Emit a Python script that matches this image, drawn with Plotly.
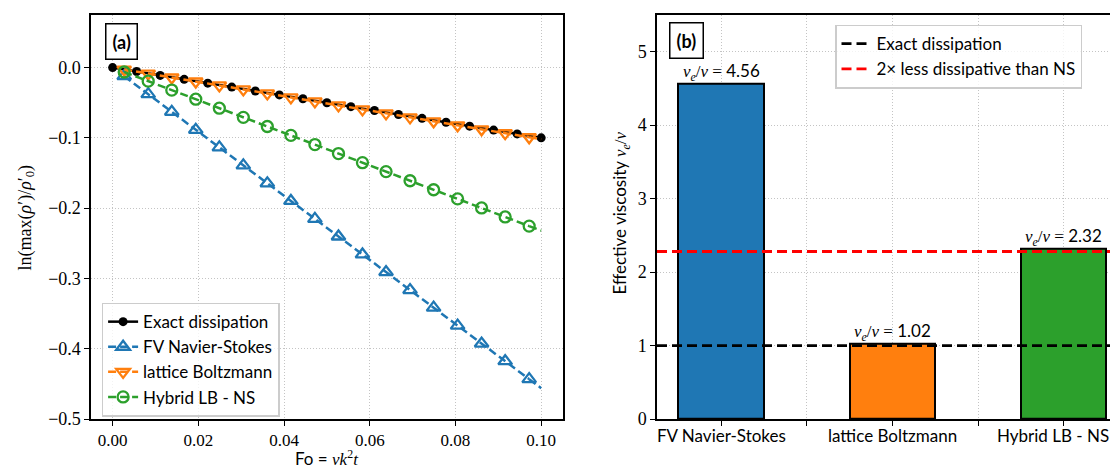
import plotly.graph_objects as go

# ---------------- data ----------------
# Panel (a): exact dissipation
fo_exact = [0.0, 0.0056, 0.0111, 0.0167, 0.0222, 0.0278, 0.0333, 0.0389, 0.0444, 0.05,
            0.0556, 0.0611, 0.0667, 0.0722, 0.0778, 0.0833, 0.0889, 0.0944, 0.1]
ln_exact = [0.0, -0.0056, -0.0111, -0.0167, -0.0222, -0.0278, -0.0333, -0.0389, -0.0444, -0.05,
            -0.0556, -0.0611, -0.0667, -0.0722, -0.0778, -0.0833, -0.0889, -0.0944, -0.1]

# Panel (a): simulations (marker samples)
fo_sim = [0.0027, 0.0083, 0.0138, 0.0194, 0.0249, 0.0305, 0.0361, 0.0416, 0.0472, 0.0527,
          0.0583, 0.0638, 0.0694, 0.0749, 0.0805, 0.0861, 0.0916, 0.0972]
ln_ns = [-0.0123, -0.0378, -0.0629, -0.0885, -0.1135, -0.1391, -0.1646, -0.1897, -0.2152, -0.2403,
         -0.2658, -0.2909, -0.3165, -0.3415, -0.3671, -0.3926, -0.4177, -0.4432]
ln_lb = [-0.0028, -0.0085, -0.0141, -0.0198, -0.0254, -0.0311, -0.0368, -0.0424, -0.0481, -0.0538,
         -0.0595, -0.0651, -0.0708, -0.0764, -0.0821, -0.0878, -0.0934, -0.0991]
ln_hy = [-0.0063, -0.0193, -0.0320, -0.0450, -0.0578, -0.0708, -0.0838, -0.0965, -0.1095, -0.1223,
         -0.1353, -0.1480, -0.1610, -0.1738, -0.1868, -0.1997, -0.2125, -0.2255]
# end of the simulated curves (line continues past last marker)
fo_end = 0.1
ln_ns_end = -0.456
ln_lb_end = -0.102
ln_hy_end = -0.232

series_names = ["Exact dissipation", "FV Navier-Stokes", "lattice Boltzmann", "Hybrid LB - NS"]

# Panel (b)
categories = ["FV Navier-Stokes", "lattice Boltzmann", "Hybrid LB - NS"]
viscosity_ratio = [4.56, 1.02, 2.32]
exact_ratio = 1.0
half_ns_ratio = 2.28
ref_names = ["Exact dissipation", "2× less dissipative than NS"]

x_ticks_a = [0.0, 0.02, 0.04, 0.06, 0.08, 0.10]
y_ticks_a = [0.0, -0.1, -0.2, -0.3, -0.4, -0.5]
y_ticks_b = [0, 1, 2, 3, 4, 5]

# ---------------- style ----------------
W, H = 1118, 470
SERIF = "Liberation Serif"
SANS = "Lato"
BLUE, ORANGE, GREEN = "#1f77b4", "#ff7f0e", "#2ca02c"
GRID = "#c4c4c4"
XR_A = [-0.005, 0.105]
YR_A = [-0.5, 0.075]
XR_B = [-0.375, 2.364]
YR_B = [0, 5.5]
YDOM = [1 - 420 / H, 1 - 7 / H]

fig = go.Figure()

# ---- panel (a) ----
fig.add_trace(go.Scatter(
    x=fo_exact, y=ln_exact, mode="lines+markers", name=series_names[0],
    line=dict(color="black", width=2.5),
    marker=dict(symbol="circle", size=9, color="black"),
    xaxis="x", yaxis="y", legend="legend"))

for ys, yend, col, sym, nm, sz in [
        (ln_ns, ln_ns_end, BLUE, "triangle-up-open", series_names[1], 12),
        (ln_lb, ln_lb_end, ORANGE, "triangle-down-open", series_names[2], 12),
        (ln_hy, ln_hy_end, GREEN, "circle-open", series_names[3], 11)]:
    fig.add_trace(go.Scatter(
        x=[fo_sim[-1], fo_end], y=[ys[-1], yend], mode="lines", showlegend=False,
        line=dict(color=col, width=2.5, dash="8px,4px"),
        xaxis="x", yaxis="y", hoverinfo="skip"))
    fig.add_trace(go.Scatter(
        x=fo_sim, y=ys, mode="lines+markers", name=nm,
        line=dict(color=col, width=2.5, dash="8px,4px"),
        marker=dict(symbol=sym, size=sz, color=col, line=dict(width=2.3, color=col)),
        xaxis="x", yaxis="y", legend="legend"))

# ---- panel (b) ----
bar_x = list(range(len(categories)))
fig.add_trace(go.Bar(
    x=bar_x, y=viscosity_ratio, width=0.5,
    marker=dict(color=[BLUE, ORANGE, GREEN], line=dict(color="black", width=2)),
    showlegend=False, xaxis="x2", yaxis="y2"))

fig.add_trace(go.Scatter(
    x=XR_B, y=[exact_ratio, exact_ratio], mode="lines", name=ref_names[0],
    line=dict(color="black", width=2.8, dash="10px,5px"),
    xaxis="x2", yaxis="y2", legend="legend2"))
fig.add_trace(go.Scatter(
    x=XR_B, y=[half_ns_ratio, half_ns_ratio], mode="lines", name=ref_names[1],
    line=dict(color="red", width=2.8, dash="10px,5px"),
    xaxis="x2", yaxis="y2", legend="legend2"))

nu = "<span style='font-family:Liberation Serif'><i>ν</i><sub><i>e</i></sub>/<i>ν</i> = </span>"
annotations = []
for xi, v in zip(bar_x, viscosity_ratio):
    annotations.append(dict(
        x=xi, y=v, xref="x2", yref="y2", text=f"{nu}{v:.2f}", showarrow=False,
        yanchor="bottom", yshift=-2, font=dict(family=SANS, size=17, color="black")))

# category labels (as text below the axis so the last one stays inside the page)
for xi, cat in zip(bar_x, categories):
    annotations.append(dict(
        x=xi, y=1 - 437 / H, xref="x2", yref="paper", text=cat, showarrow=False,
        xanchor="center", yanchor="middle", xshift=(-11 if xi == bar_x[-1] else 0),
        font=dict(family=SANS, size=17, color="black")))

# panel labels
for txt, cx, cy in [("(a)", 113.4, 34), ("(b)", 678.8, 33.5)]:
    annotations.append(dict(
        x=cx / W, y=1 - cy / H, xref="paper", yref="paper", text=f"<b>{txt}</b>",
        showarrow=False, xanchor="center", yanchor="middle",
        font=dict(family=SANS, size=18, color="black"),
        bordercolor="black", borderwidth=1.5, borderpad=6, bgcolor="white"))

# axis titles
annotations.append(dict(
    x=319 / W, y=1 - 460 / H, xref="paper", yref="paper", showarrow=False,
    text="Fo = <span style='font-family:Liberation Serif'><i>νk</i><sup>2</sup><i>t</i></span>",
    font=dict(family=SANS, size=17, color="black"), xanchor="center", yanchor="middle"))
annotations.append(dict(
    x=18 / W, y=1 - 215 / H, xref="paper", yref="paper", showarrow=False, textangle=-90,
    text="ln(max(<i>ρ</i>′)/<i>ρ</i>′<sub>0</sub>)",
    font=dict(family=SERIF, size=18, color="black"), xanchor="center", yanchor="middle"))
annotations.append(dict(
    x=613 / W, y=1 - 210 / H, xref="paper", yref="paper", showarrow=False, textangle=-90,
    text="Effective viscosity <span style='font-family:Liberation Serif'><i>ν</i><sub><i>e</i></sub>/<i>ν</i></span>",
    font=dict(family=SANS, size=17, color="black"), xanchor="center", yanchor="middle"))

axis_common = dict(showline=True, linecolor="black", linewidth=1.5, ticks="outside",
                   ticklen=5, tickwidth=1.2, tickcolor="black", showgrid=True,
                   gridcolor=GRID, griddash="1px,2px", gridwidth=1, zeroline=False)

fig.update_layout(
    width=W, height=H, margin=dict(l=0, r=0, t=0, b=0),
    paper_bgcolor="white", plot_bgcolor="white",
    xaxis=dict(domain=[83.2 / W, 554.6 / W], range=XR_A, tickvals=x_ticks_a,
               tickformat=".2f", mirror=True, anchor="y",
               tickfont=dict(family=SERIF, size=17, color="black"), **axis_common),
    yaxis=dict(domain=YDOM, range=YR_A, tickvals=y_ticks_a, tickformat=".1f",
               mirror=True, anchor="x",
               tickfont=dict(family=SERIF, size=18, color="black"), **axis_common),
    xaxis2=dict(domain=[649 / W, 1.0], range=XR_B,
                tickvals=[0, 0.5, 1, 1.5, 2], showticklabels=False,
                mirror=True, anchor="y2", **axis_common),
    yaxis2=dict(domain=YDOM, range=YR_B, tickvals=y_ticks_b, anchor="x2",
                tickfont=dict(family=SERIF, size=18, color="black"), **axis_common),
    legend=dict(x=93.6 / W, y=1 - 301 / H, xanchor="left", yanchor="top",
                bgcolor="rgba(255,255,255,0.8)", bordercolor="#cccccc", borderwidth=1.5,
                font=dict(family=SANS, size=17, color="black"), tracegroupgap=0),
    legend2=dict(x=827 / W, y=1 - 17 / H, xanchor="left", yanchor="top",
                 bgcolor="rgba(255,255,255,0.8)", bordercolor="#cccccc", borderwidth=1.5,
                 font=dict(family=SANS, size=17, color="black"), tracegroupgap=0),
    annotations=annotations,
    bargap=0,
)

fig.write_html("out.html")
